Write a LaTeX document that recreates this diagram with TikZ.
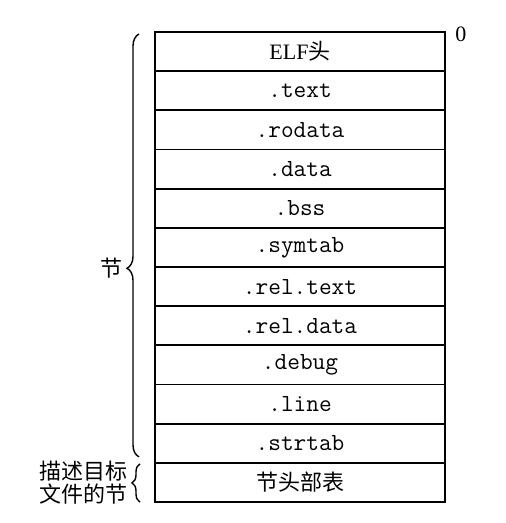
\documentclass[tikz,border=0pt]{standalone}
\usepackage{fontspec}
\setmainfont{Liberation Serif}
\newfontfamily\cjk{Noto Sans CJK SC}
\usepackage{tikz}
\usetikzlibrary{
	decorations.pathreplacing, 
	positioning
}

\begin{document}
\begin{tikzpicture}[x=0.5pt, y=-0.5pt,
	sect/.style={draw, line width=0.9pt, minimum width=145pt, minimum height=19.58pt, inner sep=0pt, outer sep=0pt, font=\fontsize{11}{13}\selectfont},
	brc/.style={decorate, line width=0.7pt}]
	\useasboundingbox (0,0) rectangle (505,523);
	\node[sect] (r1) at (300,51.6) {ELF{\cjk 头}};
	\foreach \name [count=\i from 2] in {.text,.rodata,.data,.bss,.symtab,.rel.text,.rel.data,.debug,.line,.strtab}
		\node[sect, font=\fontsize{12.3}{14}\ttfamily] (r\i) at (300, {32+39.17*(\i-0.5)}) {\name};
	\node[sect, font=\fontsize{11}{13}\cjk] (r12) at (300, {32+39.17*11.5}) {节头部表};
	\node[anchor=west, inner sep=0pt, font=\fontsize{11}{13}\selectfont] (zero) at ([xshift=5pt, yshift=-1pt]r1.north east) {0};
	\draw[brc, decoration={brace, amplitude=6pt, aspect=0.446}] ([xshift=-8pt, yshift=3pt]r11.south west) -- ([xshift=-8pt, yshift=-1pt]r1.north west)
		node[pos=0.446, left=8pt, inner sep=0pt, font=\fontsize{11}{13}\cjk] (secs) {节};
	\draw[brc, decoration={brace, amplitude=4pt}] ([xshift=-7.5pt]r12.south west) -- ([xshift=-7.5pt, yshift=-0.5pt]r12.north west)
		node[midway, left=6pt, inner sep=0pt, align=right, font=\fontsize{11}{11.5}\cjk] (desc) {描述目标\\文件的节};
\end{tikzpicture}
\end{document}
